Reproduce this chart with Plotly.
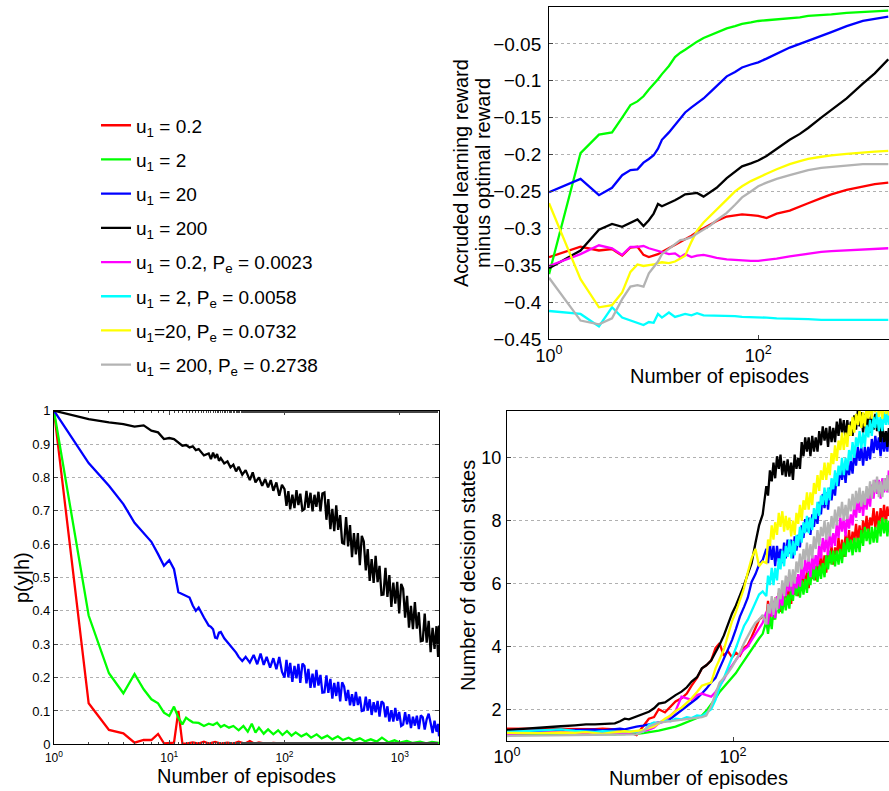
import plotly.graph_objects as go

# ---------------- data ----------------
series_names = [
    "u<sub>1</sub> = 0.2", "u<sub>1</sub> = 2", "u<sub>1</sub> = 20", "u<sub>1</sub> = 200",
    "u<sub>1</sub> = 0.2, P<sub>e</sub> = 0.0023", "u<sub>1</sub> = 2, P<sub>e</sub> = 0.0058",
    "u<sub>1</sub>=20, P<sub>e</sub> = 0.0732", "u<sub>1</sub> = 200, P<sub>e</sub> = 0.2738",
]
colors = ["#ff0000", "#00ff00", "#0000ff", "#000000", "#ff00ff", "#00ffff", "#ffff00", "#b3b3b3"]

# --- top-right: accrued learning reward minus optimal reward ---
episodes_tr = [1, 2, 3, 4, 5, 6, 7, 8, 9, 10,
               11, 12, 14, 16, 18, 20, 23, 26, 30, 35,
               40, 50, 60, 70, 85, 100, 120, 150, 200, 250,
               300, 400, 500, 700, 1000, 1300, 1750]
reward_red = [-0.339, -0.325, -0.330, -0.328, -0.337, -0.326, -0.325, -0.336, -0.339, -0.337,
              -0.335, -0.332, -0.327, -0.322, -0.318, -0.315, -0.310, -0.305, -0.300, -0.295,
              -0.290, -0.284, -0.282, -0.281, -0.282, -0.283, -0.286, -0.280, -0.276, -0.271,
              -0.266, -0.259, -0.254, -0.248, -0.243, -0.240, -0.238]
reward_green = [-0.362, -0.198, -0.173, -0.170, -0.150, -0.133, -0.128, -0.121, -0.112, -0.105,
                -0.098, -0.091, -0.080, -0.068, -0.062, -0.058, -0.052, -0.047, -0.042, -0.038,
                -0.034, -0.029, -0.026, -0.023, -0.021, -0.019, -0.018, -0.017, -0.015, -0.014,
                -0.012, -0.011, -0.010, -0.008, -0.007, -0.006, -0.005]
reward_blue = [-0.251, -0.233, -0.255, -0.245, -0.228, -0.221, -0.220, -0.211, -0.206, -0.201,
               -0.192, -0.180, -0.170, -0.160, -0.152, -0.143, -0.136, -0.130, -0.124, -0.115,
               -0.107, -0.094, -0.088, -0.082, -0.078, -0.075, -0.070, -0.063, -0.055, -0.050,
               -0.046, -0.039, -0.034, -0.026, -0.019, -0.016, -0.013]
reward_black = [-0.354, -0.330, -0.302, -0.294, -0.298, -0.293, -0.288, -0.297, -0.289, -0.280,
                -0.267, -0.270, -0.266, -0.262, -0.258, -0.254, -0.253, -0.252, -0.257, -0.250,
                -0.245, -0.232, -0.224, -0.216, -0.212, -0.208, -0.202, -0.192, -0.180, -0.172,
                -0.164, -0.150, -0.140, -0.124, -0.104, -0.090, -0.071]
reward_magenta = [-0.351, -0.335, -0.323, -0.327, -0.336, -0.325, -0.325, -0.324, -0.327, -0.329,
                  -0.331, -0.333, -0.335, -0.334, -0.339, -0.335, -0.339, -0.337, -0.336, -0.338,
                  -0.340, -0.342, -0.343, -0.343, -0.344, -0.344, -0.343, -0.341, -0.338, -0.336,
                  -0.334, -0.332, -0.331, -0.330, -0.329, -0.328, -0.327]
reward_cyan = [-0.412, -0.416, -0.433, -0.407, -0.421, -0.425, -0.428, -0.431, -0.427, -0.428,
               -0.416, -0.421, -0.414, -0.420, -0.418, -0.416, -0.418, -0.415, -0.418, -0.418,
               -0.419, -0.418, -0.419, -0.420, -0.420, -0.420, -0.421, -0.422, -0.422, -0.423,
               -0.423, -0.424, -0.424, -0.424, -0.424, -0.425, -0.424]
reward_yellow = [-0.266, -0.369, -0.407, -0.404, -0.387, -0.359, -0.349, -0.351, -0.350, -0.349,
                 -0.347, -0.346, -0.347, -0.345, -0.341, -0.337, -0.318, -0.303, -0.292, -0.283,
                 -0.274, -0.261, -0.250, -0.243, -0.236, -0.231, -0.226, -0.220, -0.213, -0.209,
                 -0.206, -0.203, -0.201, -0.199, -0.197, -0.196, -0.195]
reward_gray = [-0.367, -0.425, -0.430, -0.422, -0.396, -0.379, -0.377, -0.379, -0.361, -0.353,
               -0.345, -0.335, -0.328, -0.322, -0.316, -0.315, -0.312, -0.307, -0.302, -0.296,
               -0.289, -0.279, -0.268, -0.258, -0.250, -0.243, -0.238, -0.233, -0.228, -0.224,
               -0.221, -0.218, -0.217, -0.215, -0.213, -0.213, -0.213]

# --- bottom-left: p(y|h) ---
episodes_bl_red = [1, 2, 3, 4, 5, 6, 7, 8, 9, 10,
                   11, 12, 13, 14, 16, 18, 20, 22, 25, 28,
                   32, 36, 40, 45, 50, 55, 60, 70, 80, 100,
                   130, 170, 220, 300, 400, 600, 900, 1400, 2190]
pyh_red = [1.000, 0.123, 0.043, 0.033, 0.005, 0.013, 0.013, 0.031, 0.003, 0.003,
           0.005, 0.100, 0.003, 0.002, 0.006, 0.002, 0.008, 0.002, 0.007, 0.002,
           0.005, 0.002, 0.008, 0.002, 0.010, 0.002, 0.006, 0.001, 0.004, 0.001,
           0.002, 0.001, 0.001, 0.000, 0.000, 0.000, 0.000, 0.000, 0.000]
episodes_bl_green = [1, 2, 3, 4, 5, 6, 7, 8, 9, 10,
                     11, 12, 13, 14, 15, 16, 18, 20, 22, 24,
                     26, 28, 30, 33, 36, 40, 44, 48, 52, 56,
                     60, 66, 72, 80, 88, 96, 105, 115, 125, 140,
                     155, 170, 190, 210, 235, 260, 290, 320, 360, 400,
                     450, 500, 560, 630, 700, 800, 900, 1000, 1150, 1300,
                     1500, 1700, 1900, 2190]
pyh_green = [1.000, 0.386, 0.213, 0.153, 0.211, 0.165, 0.135, 0.123, 0.095, 0.085,
             0.113, 0.080, 0.060, 0.080, 0.072, 0.066, 0.064, 0.055, 0.062, 0.058,
             0.065, 0.052, 0.058, 0.050, 0.055, 0.042, 0.055, 0.038, 0.062, 0.035,
             0.050, 0.032, 0.045, 0.030, 0.042, 0.028, 0.040, 0.026, 0.036, 0.024,
             0.032, 0.020, 0.030, 0.018, 0.026, 0.015, 0.024, 0.013, 0.020, 0.011,
             0.018, 0.009, 0.015, 0.008, 0.020, 0.006, 0.012, 0.005, 0.010, 0.004,
             0.008, 0.003, 0.007, 0.004]
# shared dense episode grid for the noisy tails (100 .. 2190)
episodes_bl_tail = [100, 104, 108, 112, 117, 122, 127, 132, 137, 143,
                    149, 155, 161, 168, 175, 182, 189, 197, 205, 213,
                    222, 231, 240, 250, 260, 270, 281, 292, 304, 316,
                    329, 342, 356, 370, 385, 400, 416, 433, 450, 468,
                    487, 507, 527, 548, 570, 593, 617, 642, 667, 694,
                    722, 751, 781, 812, 845, 879, 914, 950, 988, 1028,
                    1069, 1112, 1156, 1202, 1250, 1300, 1352, 1406, 1463, 1521,
                    1582, 1645, 1711, 1780, 1851, 1925, 2002, 2082, 2150, 2190]
episodes_bl_blue_head = [1, 2, 3, 4, 5, 6, 7, 8, 9, 10,
                         11, 12, 13, 14, 15, 16, 17, 18, 19, 20,
                         21, 22, 23, 24, 25, 26, 27, 28, 30, 32,
                         34, 36, 38, 40, 43, 46, 50, 54, 58, 62,
                         66, 70, 75, 80, 85, 90, 95]
pyh_blue_head = [1.000, 0.843, 0.775, 0.720, 0.664, 0.632, 0.607, 0.570, 0.535, 0.552,
                 0.525, 0.456, 0.450, 0.446, 0.440, 0.416, 0.400, 0.410, 0.392, 0.380,
                 0.368, 0.356, 0.352, 0.345, 0.320, 0.318, 0.335, 0.337, 0.318, 0.306,
                 0.296, 0.285, 0.275, 0.262, 0.250, 0.262, 0.245, 0.268, 0.240, 0.272,
                 0.238, 0.262, 0.230, 0.258, 0.225, 0.262, 0.218]
pyh_blue_tail = [0.200, 0.253, 0.201, 0.244, 0.187, 0.235, 0.198, 0.241, 0.184, 0.242,
                 0.235, 0.183, 0.226, 0.169, 0.212, 0.170, 0.223, 0.176, 0.208, 0.155,
                 0.156, 0.207, 0.154, 0.196, 0.137, 0.184, 0.145, 0.187, 0.129, 0.186,
                 0.173, 0.130, 0.163, 0.117, 0.150, 0.115, 0.157, 0.118, 0.143, 0.100,
                 0.102, 0.143, 0.101, 0.135, 0.088, 0.126, 0.096, 0.130, 0.083, 0.129,
                 0.123, 0.081, 0.114, 0.068, 0.102, 0.068, 0.109, 0.071, 0.097, 0.055,
                 0.059, 0.096, 0.060, 0.090, 0.049, 0.083, 0.056, 0.086, 0.046, 0.087,
                 0.081, 0.044, 0.075, 0.092, 0.064, 0.034, 0.071, 0.038, 0.061, 0.024]
episodes_bl_black_head = [1, 2, 3, 4, 5, 6, 7, 8, 9, 10,
                          11, 12, 13, 14, 15, 16, 17, 18, 20, 22,
                          23, 24, 25, 26, 27, 28, 30, 32, 34, 36,
                          38, 40, 43, 46, 50, 53, 56, 60, 64, 68,
                          72, 76, 80, 85, 90, 95]
pyh_black_head = [1.000, 0.975, 0.965, 0.960, 0.952, 0.956, 0.940, 0.935, 0.915, 0.918,
                  0.915, 0.905, 0.895, 0.897, 0.890, 0.893, 0.882, 0.885, 0.866, 0.872,
                  0.855, 0.874, 0.858, 0.870, 0.850, 0.858, 0.842, 0.848, 0.830, 0.838,
                  0.818, 0.832, 0.808, 0.822, 0.792, 0.815, 0.785, 0.800, 0.775, 0.795,
                  0.770, 0.792, 0.760, 0.785, 0.745, 0.778]
pyh_black_tail = [0.765, 0.715, 0.759, 0.704, 0.748, 0.708, 0.762, 0.717, 0.751, 0.701,
                  0.705, 0.760, 0.709, 0.754, 0.698, 0.748, 0.712, 0.757, 0.698, 0.752,
                  0.755, 0.673, 0.735, 0.645, 0.706, 0.639, 0.716, 0.643, 0.687, 0.604,
                  0.601, 0.681, 0.593, 0.657, 0.561, 0.633, 0.569, 0.633, 0.537, 0.625,
                  0.608, 0.521, 0.585, 0.490, 0.555, 0.484, 0.565, 0.486, 0.535, 0.448,
                  0.449, 0.529, 0.442, 0.507, 0.412, 0.485, 0.422, 0.487, 0.392, 0.481,
                  0.466, 0.380, 0.445, 0.350, 0.415, 0.345, 0.426, 0.347, 0.396, 0.309,
                  0.311, 0.392, 0.305, 0.370, 0.276, 0.349, 0.286, 0.354, 0.262, 0.356]

# --- bottom-right: number of decision states ---
episodes_br = [1, 2, 3, 4, 5, 6, 7, 8, 9, 10,
               11, 12, 14, 16, 18, 20, 22, 25, 28, 31,
               35, 39, 43, 48, 53, 58, 64, 70, 76, 83,
               90, 98, 106, 115, 125, 135, 146, 158, 170, 183,
               197, 204, 212, 220, 228, 236, 245, 254, 263, 273,
               283, 293, 304, 315, 327, 339, 351, 364, 377, 391,
               405, 420, 435, 451, 467, 484, 502, 520, 539, 559,
               579, 600, 622, 645, 668, 693, 718, 744, 771, 799,
               828, 858, 889, 921, 955, 990, 1026, 1063, 1102, 1142,
               1183, 1226, 1271, 1317, 1365, 1415, 1466, 1519, 1574, 1631,
               1690, 1752, 1815, 1881, 1950, 2021, 2094, 2170, 2250, 2320,
               2390]
states_red = [1.38, 1.37, 1.38, 1.37, 1.36, 1.37, 1.38, 1.37, 1.36, 1.35,
              1.30, 1.28, 1.18, 1.45, 1.70, 1.75, 2.00, 1.90, 2.10, 2.25,
              2.35, 2.50, 2.75, 3.00, 3.30, 3.40, 3.55, 3.95, 4.10, 3.70,
              3.85, 3.65, 3.80, 3.70, 3.95, 4.05, 4.30, 4.60, 4.85, 4.95,
              4.90, 5.45, 4.85, 5.40, 4.85, 5.55, 5.15, 5.70, 5.10, 5.65,
              5.40, 5.95, 5.35, 5.90, 5.35, 6.05, 5.65, 6.20, 5.60, 6.15,
              5.90, 6.45, 5.85, 6.40, 5.85, 6.55, 6.15, 6.70, 6.10, 6.65,
              6.40, 6.95, 6.35, 6.90, 6.35, 7.05, 6.65, 7.20, 6.60, 7.15,
              6.90, 7.45, 6.85, 7.40, 6.85, 7.55, 7.15, 7.70, 7.10, 7.65,
              7.35, 7.90, 7.30, 7.85, 7.30, 8.00, 7.60, 8.15, 7.55, 8.10,
              7.85, 8.40, 7.75, 8.30, 7.70, 8.40, 8.00, 8.50, 7.90, 8.45,
              8.15]
states_green = [1.20, 1.21, 1.20, 1.22, 1.21, 1.20, 1.22, 1.21, 1.20, 1.22,
                1.21, 1.23, 1.22, 1.24, 1.26, 1.30, 1.32, 1.36, 1.40, 1.45,
                1.52, 1.60, 1.65, 1.72, 1.80, 1.95, 2.15, 2.35, 2.55, 2.70,
                2.85, 3.00, 3.15, 3.35, 3.55, 3.70, 3.90, 4.10, 4.25, 4.40,
                4.80, 4.40, 4.95, 4.55, 5.25, 4.85, 5.45, 5.05, 5.50, 5.05,
                5.60, 5.15, 5.65, 5.20, 5.90, 5.45, 6.05, 5.60, 6.05, 5.55,
                6.10, 5.65, 6.15, 5.70, 6.40, 5.95, 6.55, 6.10, 6.55, 6.05,
                6.60, 6.15, 6.65, 6.20, 6.90, 6.45, 7.05, 6.60, 7.05, 6.55,
                7.05, 6.60, 7.10, 6.65, 7.30, 6.85, 7.45, 7.00, 7.40, 6.90,
                7.45, 7.00, 7.45, 7.00, 7.70, 7.20, 7.80, 7.35, 7.75, 7.25,
                7.80, 7.30, 7.80, 7.30, 8.00, 7.50, 8.10, 7.60, 8.05, 7.50,
                8.00]
states_blue = [1.30, 1.32, 1.33, 1.32, 1.34, 1.35, 1.33, 1.35, 1.37, 1.38,
               1.36, 1.40, 1.45, 1.48, 1.52, 1.55, 1.58, 1.62, 1.70, 1.82,
               1.98, 2.10, 2.20, 2.35, 2.50, 2.65, 2.85, 3.00, 3.30, 3.60,
               3.90, 4.20, 4.55, 4.95, 5.25, 5.55, 6.05, 6.30, 6.60, 6.75,
               7.10, 6.65, 7.25, 6.75, 7.20, 6.55, 7.20, 6.70, 7.10, 6.65,
               7.30, 6.80, 7.40, 6.95, 7.40, 6.80, 7.50, 7.05, 7.55, 7.15,
               7.85, 7.45, 8.05, 7.65, 8.10, 7.55, 8.20, 7.80, 8.25, 7.90,
               8.60, 8.20, 8.85, 8.40, 8.90, 8.35, 9.05, 8.65, 9.15, 8.80,
               9.50, 9.10, 9.70, 9.30, 9.75, 9.20, 9.85, 9.45, 9.90, 9.50,
               10.20, 9.75, 10.35, 9.90, 10.35, 9.75, 10.35, 9.90, 10.35, 9.95,
               10.60, 10.15, 10.70, 10.25, 10.65, 10.05, 10.65, 10.20, 10.60, 10.20,
               10.85]
states_black = [1.34, 1.43, 1.46, 1.49, 1.52, 1.52, 1.53, 1.55, 1.55, 1.62,
                1.70, 1.68, 1.78, 1.85, 1.92, 2.03, 2.18, 2.22, 2.35, 2.45,
                2.56, 2.70, 2.88, 3.02, 3.30, 3.40, 3.55, 3.80, 4.05, 4.35,
                4.70, 5.05, 5.30, 5.60, 5.95, 6.30, 6.65, 7.30, 7.85, 8.20,
                9.10, 8.80, 9.60, 9.25, 9.85, 9.35, 10.05, 9.65, 10.10, 9.45,
                9.90, 9.40, 9.95, 9.40, 9.85, 9.30, 10.10, 9.65, 10.00, 9.65,
                10.50, 10.05, 10.65, 10.20, 10.65, 10.05, 10.70, 10.20, 10.65, 10.20,
                10.85, 10.40, 11.00, 10.55, 10.95, 10.35, 11.00, 10.50, 10.95, 10.50,
                11.15, 10.70, 11.25, 10.80, 11.20, 10.60, 11.20, 10.70, 11.15, 10.70,
                11.35, 10.90, 11.50, 11.00, 11.45, 10.80, 11.40, 10.90, 11.30, 10.80,
                11.40, 10.90, 11.40, 10.85, 11.20, 10.50, 11.05, 10.50, 10.85, 10.35,
                10.95]
states_magenta = [1.22, 1.25, 1.27, 1.24, 1.26, 1.22, 1.25, 1.27, 1.25, 1.24,
                  1.26, 1.25, 1.28, 1.30, 1.35, 1.42, 1.55, 1.62, 1.80, 1.95,
                  2.40, 2.35, 2.30, 2.45, 2.50, 2.45, 2.40, 2.55, 2.75, 2.95,
                  3.20, 3.40, 3.60, 3.75, 3.90, 4.00, 4.20, 4.40, 4.55, 4.75,
                  5.10, 4.70, 5.35, 4.95, 5.45, 4.90, 5.60, 5.20, 5.65, 5.30,
                  6.00, 5.60, 6.20, 5.75, 6.25, 5.65, 6.30, 5.85, 6.30, 5.90,
                  6.60, 6.15, 6.75, 6.35, 6.80, 6.20, 6.90, 6.45, 6.90, 6.55,
                  7.25, 6.80, 7.45, 7.00, 7.50, 6.90, 7.60, 7.15, 7.60, 7.20,
                  7.90, 7.45, 8.10, 7.65, 8.10, 7.50, 8.15, 7.75, 8.20, 7.85,
                  8.55, 8.10, 8.70, 8.25, 8.75, 8.15, 8.80, 8.35, 8.85, 8.45,
                  9.15, 8.70, 9.30, 8.85, 9.30, 8.70, 9.35, 8.90, 9.35, 8.90,
                  9.60]
states_cyan = [1.28, 1.33, 1.36, 1.31, 1.30, 1.28, 1.30, 1.29, 1.30, 1.28,
               1.30, 1.29, 1.30, 1.28, 1.50, 1.58, 1.55, 1.65, 1.62, 1.70,
               1.68, 1.75, 1.72, 1.80, 1.78, 1.88, 2.00, 2.30, 2.70, 3.00,
               3.30, 3.60, 3.95, 4.30, 4.65, 4.85, 5.10, 5.40, 5.65, 5.75,
               5.60, 6.25, 5.95, 6.50, 5.95, 6.50, 6.10, 6.80, 6.45, 7.05,
               6.55, 7.20, 6.85, 7.40, 6.80, 7.35, 6.90, 7.55, 7.20, 7.80,
               7.30, 7.95, 7.60, 8.15, 7.60, 8.10, 7.70, 8.40, 8.05, 8.60,
               8.15, 8.80, 8.50, 9.05, 8.50, 9.05, 8.65, 9.35, 9.00, 9.60,
               9.10, 9.75, 9.45, 10.00, 9.45, 10.00, 9.60, 10.25, 9.90, 10.50,
               10.00, 10.65, 10.35, 10.85, 10.30, 10.80, 10.35, 11.05, 10.65, 11.20,
               10.70, 11.30, 10.95, 11.45, 10.85, 11.30, 10.85, 11.45, 11.05, 11.55,
               11.05]
states_yellow = [1.25, 1.24, 1.26, 1.25, 1.27, 1.25, 1.22, 1.25, 1.27, 1.28,
                 1.30, 1.28, 1.32, 1.34, 1.40, 1.45, 1.55, 1.70, 1.80, 1.95,
                 2.05, 2.20, 2.35, 2.55, 2.75, 2.80, 2.85, 3.30, 3.60, 3.90,
                 4.35, 4.80, 5.10, 5.50, 5.85, 6.35, 6.80, 7.10, 6.55, 6.70,
                 6.65, 7.40, 7.20, 7.85, 7.40, 7.95, 7.55, 8.25, 7.80, 8.30,
                 7.65, 8.15, 7.70, 8.10, 7.50, 8.00, 7.55, 8.25, 7.90, 8.50,
                 8.00, 8.65, 8.35, 8.90, 8.35, 8.90, 8.50, 9.20, 8.85, 9.45,
                 8.95, 9.60, 9.30, 9.85, 9.30, 9.85, 9.45, 10.15, 9.80, 10.40,
                 9.90, 10.55, 10.25, 10.80, 10.25, 10.80, 10.35, 11.05, 10.70, 11.30,
                 10.80, 11.40, 11.05, 11.55, 10.95, 11.45, 11.00, 11.65, 11.25, 11.80,
                 11.25, 11.85, 11.45, 11.95, 11.30, 11.75, 11.25, 11.85, 11.40, 11.90,
                 11.35]
states_gray = [1.15, 1.16, 1.17, 1.16, 1.17, 1.18, 1.17, 1.18, 1.17, 1.18,
               1.19, 1.18, 1.20, 1.30, 1.45, 1.52, 1.58, 1.60, 1.62, 1.65,
               1.66, 1.68, 1.70, 1.72, 1.75, 1.80, 2.10, 2.50, 2.85, 3.00,
               3.15, 3.35, 3.55, 3.80, 4.10, 4.35, 4.55, 4.75, 4.85, 5.00,
               4.70, 5.35, 5.05, 5.60, 5.00, 5.55, 5.15, 5.85, 5.50, 6.10,
               5.60, 6.25, 5.90, 6.45, 5.90, 6.45, 6.00, 6.70, 6.35, 6.95,
               6.45, 7.10, 6.75, 7.30, 6.70, 7.25, 6.80, 7.50, 7.10, 7.70,
               7.20, 7.80, 7.50, 8.00, 7.40, 7.95, 7.50, 8.15, 7.75, 8.35,
               7.85, 8.45, 8.10, 8.60, 8.00, 8.50, 8.05, 8.70, 8.30, 8.85,
               8.35, 8.95, 8.55, 9.05, 8.45, 8.95, 8.50, 9.10, 8.70, 9.25,
               8.70, 9.30, 8.90, 9.40, 8.75, 9.25, 8.75, 9.35, 8.95, 9.45,
               8.90]

reward_ticks = [-0.45, -0.4, -0.35, -0.3, -0.25, -0.2, -0.15, -0.1, -0.05]
reward_ticktext = ["\u22120.45", "\u22120.4", "\u22120.35", "\u22120.3", "\u22120.25",
                   "\u22120.2", "\u22120.15", "\u22120.1", "\u22120.05"]
pyh_ticks = [0, 0.1, 0.2, 0.3, 0.4, 0.5, 0.6, 0.7, 0.8, 0.9, 1]
pyh_ticktext = ["0", "0.1", "0.2", "0.3", "0.4", "0.5", "0.6", "0.7", "0.8", "0.9", "1"]
states_ticks = [2, 4, 6, 8, 10]
log_ticks_bl = [1, 10, 100, 1000]
log_ticktext_bl = ["10<sup>0</sup>", "10<sup>1</sup>", "10<sup>2</sup>", "10<sup>3</sup>"]
log_ticks_r = [1, 100]
log_ticktext_r = ["10<sup>0</sup>", "10<sup>2</sup>"]

reward_series = [reward_red, reward_green, reward_blue, reward_black,
                 reward_magenta, reward_cyan, reward_yellow, reward_gray]
states_series = [states_red, states_green, states_blue, states_black,
                 states_magenta, states_cyan, states_yellow, states_gray]
pyh_x = [episodes_bl_red, episodes_bl_green,
         episodes_bl_blue_head + episodes_bl_tail,
         episodes_bl_black_head + episodes_bl_tail]
pyh_y = [pyh_red, pyh_green,
         pyh_blue_head + pyh_blue_tail,
         pyh_black_head + pyh_black_tail]

# ---------------- figure ----------------
FONT = "Liberation Sans, Arial, Helvetica, sans-serif"
LW = 2.3
W, H = 889, 791
fig = go.Figure()

for i, ys in enumerate(reward_series):
    fig.add_trace(go.Scatter(x=episodes_tr, y=ys, mode="lines", name=series_names[i],
                             line=dict(color=colors[i], width=LW),
                             xaxis="x2", yaxis="y2", legendgroup=f"g{i}", showlegend=True))
for i in range(4):
    n = min(len(pyh_x[i]), len(pyh_y[i]))
    fig.add_trace(go.Scatter(x=pyh_x[i][:n], y=pyh_y[i][:n], mode="lines", name=series_names[i],
                             line=dict(color=colors[i], width=LW),
                             xaxis="x", yaxis="y", showlegend=False))
for i, ys in enumerate(states_series):
    n = min(len(episodes_br), len(ys))
    fig.add_trace(go.Scatter(x=episodes_br[:n], y=ys[:n], mode="lines", name=series_names[i],
                             line=dict(color=colors[i], width=LW),
                             xaxis="x3", yaxis="y3", showlegend=False))

grid = dict(showgrid=True, gridcolor="#b0b0b0", griddash="dot", gridwidth=1)
axline = dict(showline=True, linecolor="black", linewidth=1, zeroline=False, automargin=False)
title_font = dict(family=FONT, size=20, color="black")


def title_ann(text, px, py, angle=0):
    return dict(text=text, x=px / W, y=1 - py / H, xref="paper", yref="paper",
                xanchor="center", yanchor="middle", showarrow=False,
                textangle=angle, font=title_font)


annotations = [
    title_ann("Number of episodes", 719, 376),
    title_ann("Accruded learning reward", 461, 173, -90),
    title_ann("minus optimal reward", 483, 173, -90),
    title_ann("Number of episodes", 246.5, 776),
    title_ann("p(y|h)", 22, 578, -90),
    title_ann("Number of episodes", 698, 778),
    title_ann("Number of decision states", 468, 576, -90),
]

fig.update_layout(
    width=W, height=H,
    margin=dict(l=0, r=0, t=0, b=0),
    paper_bgcolor="white", plot_bgcolor="white",
    font=dict(family=FONT, color="black"),
    showlegend=True,
    legend=dict(x=0.108, y=0.8655, xanchor="left", yanchor="top",
                font=dict(family=FONT, size=19, color="black"),
                bgcolor="rgba(0,0,0,0)", borderwidth=0,
                tracegroupgap=6.5, itemwidth=30),
    annotations=annotations,
    # bottom-left
    xaxis=dict(domain=[0.0607, 0.4938], type="log", range=[0, 3.34], anchor="y",
               tickvals=log_ticks_bl, ticktext=log_ticktext_bl,
               tickfont=dict(size=12), ticks="inside", ticklen=4, mirror="ticks",
               ticklabelstandoff=2,
               minor=dict(ticks="inside", ticklen=2, showgrid=False),
               showgrid=False, **axline),
    yaxis=dict(domain=[0.0590, 0.4808], range=[0, 1], anchor="x",
               tickvals=pyh_ticks, ticktext=pyh_ticktext, tickfont=dict(size=13),
               ticks="inside", ticklen=4, mirror="ticks",
               **grid, **axline),
    # top-right
    xaxis2=dict(domain=[0.6176, 1.0], type="log", range=[0, 3.25], anchor="y2",
                tickvals=log_ticks_r, ticktext=log_ticktext_r,
                tickfont=dict(size=18), ticks="inside", ticklen=4, mirror=True,
                showgrid=False, **axline),
    yaxis2=dict(domain=[0.5714, 0.9912], range=[-0.45, 0.0], anchor="x2",
                tickvals=reward_ticks, ticktext=reward_ticktext, tickfont=dict(size=19),
                ticks="inside", ticklen=4, ticklabelstandoff=3,
                **grid, **axline),
    # bottom-right
    xaxis3=dict(domain=[0.5703, 1.0], type="log", range=[0, 3.38], anchor="y3",
                tickvals=log_ticks_r, ticktext=log_ticktext_r,
                tickfont=dict(size=18), ticks="inside", ticklen=4, mirror=True,
                showgrid=False, **axline),
    yaxis3=dict(domain=[0.0636, 0.4808], range=[1, 11.5], anchor="x3",
                tickvals=states_ticks, tickfont=dict(size=18),
                ticks="inside", ticklen=4, ticklabelstandoff=1,
                **grid, **axline),
)

fig.write_html("out.html")
